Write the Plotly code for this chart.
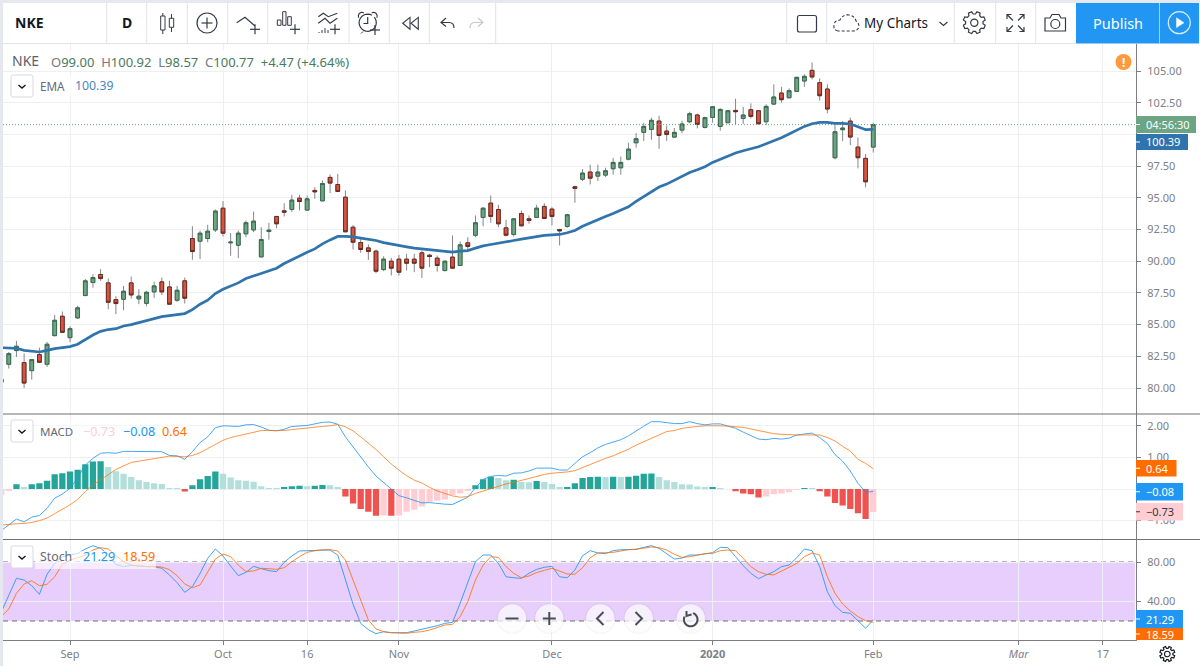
import math
import re
import plotly.graph_objects as go

# ---------- data ----------
bar_index = list(range(-9, 106))

opens = [80.70, 81.87, 82.95, 82.0, 81.37, 82.63, 81.87, 84.13, 85.66,
         83.97, 85.53, 87.29, 88.32, 88.95, 88.29, 86.97, 87.0, 88.29, 87.03, 86.68, 87.58, 88.37, 87.97, 86.92, 88.45,
         91.79, 91.58, 91.79, 92.47, 94.18, 91.45, 91.26, 92.16, 92.47, 90.34, 92.34, 93.53, 93.97, 94.08, 94.97, 94.03,
         95.58, 94.76, 96.61, 96.05, 95.05, 92.68, 91.47, 91.05, 90.79, 89.34, 90.0, 90.16, 90.16, 90.16, 90.66, 90.47,
         90.24, 89.26, 90.32, 89.66, 91.45, 92.05, 93.45, 94.58, 94.08, 92.63, 92.11, 93.76, 93.34, 93.45, 94.32, 94.11,
         92.5, 92.74, 95.87, 96.47, 97.03, 96.71, 96.79, 97.29, 97.37, 98.05, 99.34, 100.16, 100.39, 101.05, 100.26,
         99.79, 100.34, 101.0, 101.53, 100.55, 101.34, 100.63, 100.92, 101.89, 101.26, 101.95, 101.87, 101.0, 102.39,
         103.26, 102.89, 103.39, 104.21, 105.05, 104.08, 103.58, 98.16, 100.37, 101.05, 99.0, 98.11, 99.0]
highs = [81.0, 82.84, 83.71, 82.71, 82.24, 83.18, 83.63, 85.76, 86.03,
         84.87, 86.47, 88.6, 88.97, 89.37, 88.63, 87.24, 88.05, 88.79, 87.79, 87.66, 88.39, 88.71, 88.45, 88.05, 88.71,
         92.76, 92.42, 92.87, 94.08, 94.74, 92.21, 92.42, 93.21, 93.92, 92.68, 93.03, 93.53, 94.58, 95.24, 95.24, 95.18,
         95.84, 96.37, 96.84, 96.89, 95.58, 92.84, 91.76, 91.32, 90.92, 90.39, 90.26, 90.5, 90.58, 90.58, 90.84, 90.58,
         90.45, 90.05, 92.03, 91.55, 91.89, 93.61, 94.26, 95.18, 94.45, 93.26, 93.34, 94.0, 93.61, 94.45, 94.58, 94.26,
         92.55, 93.74, 95.95, 97.26, 97.61, 97.61, 97.37, 98.16, 98.26, 99.34, 100.11, 100.89, 101.32, 101.47, 100.7,
         100.5, 101.08, 101.79, 101.63, 101.39, 102.24, 102.05, 101.92, 102.82, 102.18, 102.45, 101.92, 102.37, 103.95,
         103.76, 103.63, 104.5, 104.74, 105.68, 104.42, 103.95, 100.74, 101.05, 101.32, 99.76, 98.45, 100.92]
lows = [80.3, 81.53, 82.45, 80.0, 80.66, 81.97, 81.66, 84.08, 84.34,
        83.61, 85.45, 87.24, 87.92, 88.45, 86.21, 85.82, 86.13, 87.05, 86.61, 86.45, 87.11, 87.32, 86.61, 86.79, 86.66,
        90.11, 90.16, 91.5, 92.3, 91.95, 90.42, 90.24, 91.89, 92.29, 90.32, 91.71, 92.6, 93.53, 93.87, 94.0, 94.0,
        94.92, 94.74, 95.37, 95.45, 92.29, 90.92, 90.66, 90.11, 89.05, 89.21, 88.87, 88.87, 89.26, 89.13, 88.68, 89.53,
        89.18, 89.21, 89.39, 89.61, 90.84, 91.89, 92.76, 93.03, 92.68, 91.97, 91.95, 92.74, 92.95, 93.45, 93.37, 92.82,
        91.24, 92.63, 94.61, 96.32, 96.05, 96.32, 96.63, 96.82, 96.82, 97.95, 98.95, 99.47, 99.58, 98.87, 99.5,
        99.71, 100.08, 100.87, 100.47, 100.47, 100.92, 100.29, 100.92, 100.79, 100.82, 101.26, 100.79, 100.74, 102.32,
        102.5, 102.84, 103.37, 103.76, 104.34, 102.66, 101.66, 98.03, 99.47, 99.16, 97.32, 95.82, 98.57]
closes = [80.45, 82.71, 83.29, 80.39, 82.24, 82.03, 83.45, 85.34, 84.39,
          84.68, 86.32, 88.45, 88.71, 88.63, 86.76, 86.66, 87.63, 87.34, 87.24, 87.55, 88.05, 87.58, 86.61, 87.71, 87.08,
          90.76, 92.21, 92.37, 93.95, 92.21, 91.5, 92.21, 93.03, 93.16, 91.71, 92.45, 92.95, 93.87, 94.82, 94.71, 94.92,
          95.47, 96.13, 96.16, 95.5, 92.32, 91.5, 90.92, 90.76, 89.21, 90.16, 89.45, 89.13, 89.84, 89.84, 89.45, 90.37,
          89.66, 90.0, 89.45, 91.29, 91.16, 93.03, 94.18, 93.53, 92.95, 92.05, 93.34, 92.79, 93.21, 94.18, 93.37, 93.53,
          92.39, 93.66, 95.74, 96.95, 96.55, 97.03, 97.13, 97.79, 97.79, 98.84, 99.66, 100.63, 101.11, 99.92, 100.0,
          100.16, 100.82, 101.63, 100.79, 101.32, 102.18, 101.97, 101.87, 101.79, 101.53, 101.42, 100.84, 102.21, 102.95,
          102.74, 103.45, 104.5, 104.58, 104.53, 103.05, 102.0, 100.21, 100.5, 99.79, 98.16, 96.26, 100.77]
ema = [83.18, 83.18, 83.13, 82.97, 82.89, 82.84, 82.97, 83.11, 83.18,
       83.26, 83.45, 83.84, 84.18, 84.47, 84.61, 84.68, 84.89, 85.0, 85.16, 85.32, 85.45, 85.63, 85.71, 85.79, 85.87,
       86.18, 86.61, 86.92, 87.45, 87.79, 88.03, 88.29, 88.63, 88.84, 89.08, 89.24, 89.45, 89.82, 90.13, 90.42, 90.7,
       90.97, 91.37, 91.68, 91.95, 91.95, 91.92, 91.82, 91.74, 91.63, 91.47, 91.34, 91.21, 91.13, 91.03, 90.97, 90.92,
       90.84, 90.76, 90.71, 90.79, 90.84, 91.03, 91.21, 91.32, 91.42, 91.47, 91.63, 91.74, 91.84, 91.97, 92.03, 92.08,
       92.11, 92.24, 92.42, 92.76, 93.03, 93.29, 93.53, 93.76, 94.05, 94.29, 94.71, 95.11, 95.5, 95.85, 96.08,
       96.37, 96.66, 97.0, 97.21, 97.45, 97.79, 98.05, 98.29, 98.53, 98.71, 98.87, 99.03, 99.26, 99.47,
       99.74, 100.03, 100.34, 100.63, 100.84, 100.95, 100.95, 100.87, 100.87, 100.82, 100.61, 100.37, 100.39]
macd_hist = [-0.2, -0.05, 0.15, 0.05, 0.15, 0.18, 0.26, 0.47, 0.5,
             0.55, 0.61, 0.78, 0.87, 0.88, 0.7, 0.56, 0.48, 0.38, 0.28, 0.22, 0.18, 0.16, 0.03, 0.01, -0.08,
             0.12, 0.31, 0.41, 0.55, 0.48, 0.36, 0.28, 0.26, 0.23, 0.09, 0.03, 0.02, 0.04, 0.09, 0.10, 0.09,
             0.10, 0.13, 0.12, 0.06, -0.24, -0.46, -0.63, -0.72, -0.85, -0.84, -0.85, -0.84, -0.72, -0.66, -0.55, -0.4,
             -0.37, -0.33, -0.2, -0.14, -0.04, 0.12, 0.31, 0.39, 0.35, 0.28, 0.29, 0.22, 0.21, 0.25, 0.22, 0.16,
             0.05, 0.06, 0.18, 0.35, 0.38, 0.39, 0.38, 0.39, 0.38, 0.39, 0.42, 0.48, 0.49, 0.38, 0.28,
             0.22, 0.15, 0.14, 0.08, 0.05, 0.06, 0.02, 0.0, -0.07, -0.14, -0.17, -0.27, -0.24, -0.17,
             -0.14, -0.1, -0.01, 0.03, 0.03, -0.07, -0.24, -0.44, -0.52, -0.63, -0.77, -0.95, -0.73]
macd_line = [-1.32, -1.13, -0.95, -1.04, -0.89, -0.84, -0.61, -0.29, -0.16,
             0.02, 0.34, 0.76, 0.97, 1.13, 1.15, 1.13, 1.19, 1.19, 1.19, 1.19, 1.19, 1.18, 1.06, 1.05, 0.94,
             1.18, 1.47, 1.65, 1.94, 2.0, 1.99, 1.98, 2.03, 2.04, 1.96, 1.86, 1.84, 1.89, 1.98, 2.0, 2.01,
             2.06, 2.11, 2.12, 2.05, 1.65, 1.33, 1.02, 0.7, 0.41, 0.21, 0.0, -0.21, -0.28, -0.35, -0.44, -0.43,
             -0.46, -0.48, -0.49, -0.38, -0.26, 0.04, 0.3, 0.4, 0.43, 0.41, 0.5, 0.51, 0.57, 0.66, 0.66, 0.66,
             0.6, 0.6, 0.81, 1.02, 1.15, 1.3, 1.41, 1.49, 1.56, 1.68, 1.84, 1.99, 2.13, 2.13, 2.1,
             2.07, 2.07, 2.13, 2.07, 2.03, 2.06, 2.06, 1.99, 1.92, 1.8, 1.69, 1.58, 1.56, 1.6,
             1.58, 1.61, 1.71, 1.74, 1.77, 1.63, 1.44, 1.09, 0.88, 0.57, 0.18, -0.1, -0.08]
macd_signal = [-1.14, -1.11, -1.10, -1.09, -1.06, -1.0, -0.92, -0.78, -0.64,
               -0.5, -0.33, -0.08, 0.13, 0.28, 0.45, 0.62, 0.72, 0.84, 0.88, 0.92, 0.98, 1.02, 1.04, 1.03, 1.02,
               1.06, 1.15, 1.28, 1.42, 1.54, 1.63, 1.69, 1.74, 1.8, 1.85, 1.85, 1.84, 1.85, 1.88, 1.91, 1.93,
               1.95, 1.98, 2.0, 2.04, 1.97, 1.84, 1.65, 1.46, 1.25, 1.02, 0.79, 0.6, 0.42, 0.28, 0.19, 0.05,
               -0.06, -0.14, -0.22, -0.26, -0.24, -0.14, -0.06, 0.02, 0.1, 0.16, 0.21, 0.27, 0.35, 0.41, 0.46, 0.5,
               0.51, 0.54, 0.58, 0.68, 0.76, 0.87, 0.97, 1.05, 1.15, 1.26, 1.39, 1.49, 1.61, 1.71, 1.82,
               1.85, 1.92, 1.96, 1.98, 2.0, 2.01, 2.0, 1.99, 1.97, 1.95, 1.9, 1.85, 1.8, 1.75,
               1.73, 1.71, 1.71, 1.71, 1.71, 1.71, 1.63, 1.52, 1.35, 1.2, 0.94, 0.81, 0.64]
stoch_k = [28.8, 46.4, 63.4, 61.7, 55.9, 47.1, 67.5, 78.6, 85.4,
           87.1, 88.8, 93.2, 96.6, 93.9, 87.8, 77.6, 75.3, 76.6, 75.9, 75.3, 75.3, 73.6, 66.8, 59.0, 49.2,
           54.9, 68.5, 83.7, 93.2, 86.1, 75.9, 66.1, 69.5, 75.6, 73.2, 71.2, 70.2, 79.7, 86.1, 91.2, 91.5,
           91.9, 92.5, 92.2, 87.1, 61.7, 37.0, 17.6, 11.2, 7.1, 9.1, 8.1, 8.1, 8.1, 9.8, 11.5, 12.9,
           15.2, 17.6, 18.6, 38.0, 60.0, 80.3, 87.1, 87.1, 78.6, 65.0, 64.0, 63.4, 68.5, 72.5, 74.6, 75.6,
           65.0, 64.0, 71.9, 86.4, 91.5, 89.2, 88.5, 91.5, 92.5, 92.5, 92.9, 94.9, 96.6, 93.9, 88.8,
           83.0, 84.1, 87.1, 87.1, 88.5, 89.5, 94.9, 94.6, 85.4, 76.3, 68.5, 63.0, 66.8, 70.2,
           75.3, 76.9, 84.4, 93.2, 91.5, 75.3, 49.8, 35.6, 28.8, 27.8, 20.3, 12.5, 21.29]
stoch_d = [24.4, 32.2, 48.1, 57.6, 61.0, 55.9, 57.3, 65.0, 77.6,
           82.0, 84.4, 87.1, 92.2, 94.6, 93.2, 87.1, 80.3, 76.9, 75.9, 75.3, 75.3, 74.9, 72.2, 66.1, 57.6,
           53.9, 56.6, 70.2, 83.0, 88.1, 85.4, 76.9, 70.2, 70.9, 73.6, 73.2, 72.5, 74.2, 80.3, 85.4, 89.8,
           91.5, 92.5, 92.5, 91.2, 82.0, 61.7, 39.7, 21.0, 11.9, 9.1, 8.1, 7.5, 7.5, 8.5, 9.1, 10.8,
           13.2, 15.9, 16.6, 24.4, 39.7, 61.7, 76.9, 85.4, 84.7, 75.3, 68.5, 64.0, 65.8, 69.2, 71.5, 73.6,
           70.8, 67.8, 67.5, 74.2, 84.4, 89.2, 89.5, 89.8, 91.2, 92.5, 92.9, 93.9, 95.3, 94.6, 92.2,
           87.8, 84.7, 85.4, 86.8, 88.5, 88.8, 91.5, 92.2, 91.5, 83.7, 75.3, 70.2, 67.5, 66.8,
           70.9, 74.6, 78.6, 85.4, 89.2, 87.1, 65.0, 48.1, 37.3, 30.2, 24.4, 20.3, 18.59]

price_ticks = [80, 82.5, 85, 87.5, 90, 92.5, 95, 97.5, 100, 102.5, 105]
price_labels = ["80.00", "82.50", "85.00", "87.50", "90.00", "92.50", "95.00", "97.50", "", "102.50", "105.00"]
macd_ticks = [-1, 0, 1, 2]
macd_labels = ["−1.00", "", "1.00", "2.00"]
stoch_ticks = [40, 80]
stoch_labels = ["40.00", "80.00"]
stoch_upper, stoch_lower = 80, 20
date_ticks = [0, 20, 31, 43, 63, 84, 105, 124, 135]
date_labels = ["Sep", "Oct", "16", "Nov", "Dec", "<b>2020</b>", "Feb", "<i>Mar</i>", "17"]

for s in (opens, highs, lows, closes, ema, macd_hist, macd_line, macd_signal, stoch_k, stoch_d):
    assert len(s) == len(bar_index), len(s)

# ---------- style ----------
W, H = 1200, 666
FONT = "Noto Sans"
GREEN, RED = "#6ba583", "#d75442"
GREEN_EDGE, RED_EDGE = "#3a6a4e", "#6b2a20"
WICK = "#85868a"
EMA_C = "#2f74ad"
BLUE, ORANGE = "#2196f3", "#ff6d00"
GRID = "#eeeff3"
AXIS = "#7b7d82"
LABEL = "#7d8087"
ICON = "#363a45"
X_RANGE = [(3 - 70) / 7.65, (1136 - 70) / 7.65]


def px(x):
    return x / W


def py(y):
    return 1 - y / H


def conv(path):
    return re.sub(r"(-?\d+\.?\d*)[ ,]+(-?\d+\.?\d*)",
                  lambda m: f"{px(float(m.group(1))):.5f},{py(float(m.group(2))):.5f}", path)


shapes, notes = [], []


def line(x0, y0, x1, y1, color=ICON, width=1.0, dash=None, layer="above"):
    shapes.append(dict(type="line", xref="paper", yref="paper", x0=px(x0), x1=px(x1), y0=py(y0), y1=py(y1),
                       line=dict(color=color, width=width, dash=dash or "solid"), layer=layer))


def rect(x0, y0, x1, y1, fill=None, color=None, width=1.0, layer="above"):
    shapes.append(dict(type="rect", xref="paper", yref="paper", x0=px(x0), x1=px(x1), y0=py(y0), y1=py(y1),
                       fillcolor=fill or "rgba(0,0,0,0)",
                       line=dict(color=color or "rgba(0,0,0,0)", width=width if color else 0), layer=layer))


def circle(cx, cy, r, fill=None, color=ICON, width=1.2):
    shapes.append(dict(type="circle", xref="paper", yref="paper", x0=px(cx - r), x1=px(cx + r),
                       y0=py(cy + r), y1=py(cy - r), fillcolor=fill or "rgba(0,0,0,0)",
                       line=dict(color=color or "rgba(0,0,0,0)", width=width if color else 0), layer="above"))


def path(d, color=ICON, width=1.2, fill=None, dash=None):
    shapes.append(dict(type="path", xref="paper", yref="paper", path=conv(d), fillcolor=fill or "rgba(0,0,0,0)",
                       line=dict(color=color, width=width, dash=dash or "solid"), layer="above"))


def text(x, y, s, size=12, color=LABEL, anchor="left"):
    notes.append(dict(xref="paper", yref="paper", x=px(x), y=py(y), text=s, showarrow=False, xanchor=anchor,
                      yanchor="middle", font=dict(family=FONT, size=size, color=color), borderpad=0, borderwidth=0))


def arc(cx, cy, r, a0, a1, n=24):
    pts = []
    for k in range(n + 1):
        a = math.radians(a0 + (a1 - a0) * k / n)
        pts.append(f"{'M' if k == 0 else 'L'} {cx + r * math.cos(a):.2f} {cy + r * math.sin(a):.2f}")
    return " ".join(pts)


def gear(cx, cy, r_in, r_out, teeth=8):
    pts = []
    for k in range(teeth):
        base = 360 * k / teeth
        for off, r in ((-15, r_in), (-9, r_out), (9, r_out), (15, r_in)):
            a = math.radians(base + off + 22.5)
            pts.append(f"{cx + r * math.cos(a):.2f} {cy + r * math.sin(a):.2f}")
    return "M " + " L ".join(pts) + " Z"


def plus(cx, cy, r, color=ICON, width=1.2):
    line(cx - r, cy, cx + r, cy, color, width)
    line(cx, cy - r, cx, cy + r, color, width)


def chevron_box(y0):
    shapes.append(dict(type="path", xref="paper", yref="paper", layer="above",
                       path=conv(f"M 13 {y0} L 31 {y0} Q 33 {y0} 33 {y0 + 2} L 33 {y0 + 20} Q 33 {y0 + 22} 31 {y0 + 22} "
                                 f"L 13 {y0 + 22} Q 11 {y0 + 22} 11 {y0 + 20} L 11 {y0 + 2} Q 11 {y0} 13 {y0} Z"),
                       fillcolor="#ffffff", line=dict(color="#d8dae6", width=1)))
    path(f"M 18.5 {y0 + 10} L 22 {y0 + 13} L 25.5 {y0 + 10}", "#131722", 1.4)


def tag(y0, y1, x1, s, fill, fg="#ffffff"):
    rect(1136, y0, x1, y1, fill=fill)
    line(1136, (y0 + y1) / 2, 1140, (y0 + y1) / 2, fg, 1)
    text(1145.5, (y0 + y1) / 2, s, 11, fg)


# ---------- traces ----------
fig = go.Figure()
body_hi = [max(o, c) for o, c in zip(opens, closes)]
body_lo = [min(o, c) for o, c in zip(opens, closes)]

fig.add_trace(go.Candlestick(x=bar_index, open=opens, high=highs, low=lows, close=closes, xaxis="x", yaxis="y",
                             whiskerwidth=0, showlegend=False,
                             increasing=dict(line=dict(color=WICK, width=1), fillcolor=GREEN),
                             decreasing=dict(line=dict(color=WICK, width=1), fillcolor=RED)))
fig.add_trace(go.Candlestick(x=bar_index, open=opens, high=body_hi, low=body_lo, close=closes, xaxis="x", yaxis="y",
                             whiskerwidth=0, showlegend=False,
                             increasing=dict(line=dict(color=GREEN_EDGE, width=1), fillcolor=GREEN),
                             decreasing=dict(line=dict(color=RED_EDGE, width=1), fillcolor=RED)))
fig.add_trace(go.Scatter(x=X_RANGE, y=[closes[-1], closes[-1]], mode="lines", xaxis="x", yaxis="y", showlegend=False,
                         line=dict(color=GREEN, width=1, dash="1px,2px")))
fig.add_trace(go.Scatter(x=bar_index, y=ema, mode="lines", xaxis="x", yaxis="y", showlegend=False,
                         line=dict(color=EMA_C, width=2.7)))


def hist_color(k):
    v = macd_hist[k]
    rising = k > 0 and v > macd_hist[k - 1]
    if v >= 0:
        return "#26a69a" if rising else "#b2dfdb"
    return "#ffcdd2" if (rising or k == 0) else "#ef5350"


fig.add_trace(go.Bar(x=bar_index, y=macd_hist, xaxis="x2", yaxis="y2", showlegend=False, width=0.82,
                     marker=dict(color=[hist_color(k) for k in range(len(macd_hist))], line=dict(width=0))))
fig.add_trace(go.Scatter(x=bar_index, y=macd_line, mode="lines", xaxis="x2", yaxis="y2", showlegend=False, opacity=0.82,
                         line=dict(color=BLUE, width=1)))
fig.add_trace(go.Scatter(x=bar_index, y=macd_signal, mode="lines", xaxis="x2", yaxis="y2", showlegend=False, opacity=0.72,
                         line=dict(color=ORANGE, width=1)))
fig.add_trace(go.Scatter(x=bar_index, y=stoch_k, mode="lines", xaxis="x3", yaxis="y3", showlegend=False, opacity=0.85,
                         line=dict(color=BLUE, width=1)))
fig.add_trace(go.Scatter(x=bar_index, y=stoch_d, mode="lines", xaxis="x3", yaxis="y3", showlegend=False, opacity=0.8,
                         line=dict(color=ORANGE, width=1)))

# stochastic band
shapes.append(dict(type="rect", xref="x3", yref="y3", x0=X_RANGE[0], x1=X_RANGE[1] - 0.15, y0=stoch_lower, y1=stoch_upper,
                   fillcolor="rgba(150,30,240,0.22)", line=dict(width=0), layer="below"))
for lv in (stoch_upper, stoch_lower):
    shapes.append(dict(type="line", xref="x3", yref="y3", x0=X_RANGE[0], x1=X_RANGE[1] - 0.15, y0=lv, y1=lv,
                       line=dict(color="#6e6e78", width=1.1, dash="5px,4px"), layer="below"))

# ---------- chrome ----------
rect(0, 0, 3, 666, fill="#e6e8f0")
rect(0, 0, 1200, 3, fill="#e6e8f0")
line(0, 43.5, 1076, 43.5, "#e0e3eb", 1)
for xs in (106.7, 146.7, 187.3, 227.7, 267.7, 308.3, 349, 389.3, 429.3, 495.7,
           786.7, 826.7, 954.3, 995.7, 1035.7):
    line(xs, 3, xs, 43, "#e0e3eb", 1)

# translucent legend backings
rect(3, 50, 350, 70, fill="rgba(255,255,255,0.75)")
rect(3, 75, 118, 96, fill="rgba(255,255,255,0.75)")
rect(35, 420, 190, 438, fill="rgba(255,255,255,0.5)")
rect(35, 551, 156, 569, fill="rgba(255,255,255,0.62)")

# panel separators and axis lines
line(3, 414, 1200, 414, "#6f7176", 1.2)
line(3, 539.5, 1200, 539.5, "#6f7176", 1.2)

# toolbar left
text(15, 23, "<b>NKE</b>", 14, "#131722")
text(126.5, 23, "<b>D</b>", 14, "#131722", "center")
line(162.8, 13, 162.8, 34)
rect(160.7, 16, 165, 30, fill="#ffffff", color=ICON)
line(171.5, 14, 171.5, 32)
rect(169.3, 18.3, 173.7, 27.3, fill="#ffffff", color=ICON)
circle(207, 23, 10)
plus(207, 23, 5.5)
path("M 236.7 22.7 L 245 17.3 L 255 26")
plus(255, 29.3, 5)
rect(277.3, 20, 281, 25.3, color=ICON)
rect(282.7, 11.7, 286, 25.3, color=ICON)
rect(287.7, 16.7, 291.3, 25.3, color=ICON)
plus(295, 29.3, 5)
path("M 318.3 16.7 L 323.3 13.3 L 328.3 16.7 L 337.3 13.3")
path("M 318.3 23.3 L 325 18.3 L 330 23.3 L 337.3 18.3")
for bx, bt in ((319, 32), (322, 30), (325, 28), (328, 30)):
    line(bx, 33, bx, bt, ICON, 1)
plus(335, 29.3, 5)
path(arc(367.7, 22.7, 8.6, -40, 300))
path("M 367.7 17 L 367.7 23.5 L 363.5 23.5")
path(arc(362, 16, 3.6, 150, 300))
path(arc(373.5, 16, 3.6, 240, 390))
line(363, 31.5, 361, 33.5)
plus(375, 30, 5)
path("M 410 17.3 L 402.7 23.3 L 410 29.3 Z M 418.3 17.3 L 411 23.3 L 418.3 29.3 Z", "#363a45", 1.1)
path("M 446 18 L 441 22.5 L 446 26.5 M 441 22.5 L 449 22.5 Q 454 22.5 454 28")
path("M 478 18 L 483 22.5 L 478 26.5 M 483 22.5 L 475 22.5 Q 470 22.5 470 28", "#c4c7cf")

# toolbar right
path("M 799.5 15.5 L 814.5 15.5 Q 816.5 15.5 816.5 17.5 L 816.5 30 Q 816.5 32 814.5 32 L 799.5 32 Q 797.5 32 797.5 30 "
     "L 797.5 17.5 Q 797.5 15.5 799.5 15.5 Z")
path("M 838 31 Q 833 30 834 25 Q 834 21 840 20 Q 843 14 849 15 Q 855 16 856 21 Q 860 24 858.5 28 Q 857 31 853 31 Z",
     dash="3px,2px", width=1.1)
text(864, 23, "My Charts", 13.5, "#131722")
path("M 939.5 22 L 943.5 25.5 L 947.5 22", "#363a45", 1.2)
path(gear(974.3, 22.7, 8.8, 11.2), width=1.2)
circle(974.3, 22.7, 3.6)
for d in ("M 1007 19 L 1007 14.5 L 1011.5 14.5 M 1007 14.5 L 1013 20.5",
          "M 1019.5 14.5 L 1024 14.5 L 1024 19 M 1024 14.5 L 1018 20.5",
          "M 1007 27 L 1007 31.5 L 1011.5 31.5 M 1007 31.5 L 1013 25.5",
          "M 1019.5 31.5 L 1024 31.5 L 1024 27 M 1024 31.5 L 1018 25.5"):
    path(d)
path("M 1045 18 L 1050 18 L 1052 14.5 L 1059 14.5 L 1061 18 L 1065.5 18 L 1065.5 31 L 1045 31 Z")
circle(1055.3, 24, 4.5)
rect(1076, 3, 1199, 43.5, fill=BLUE)
line(1159.5, 3, 1159.5, 43.5, "#a5d4f9", 1)
text(1117.5, 23, "Publish", 14.5, "#ffffff", "center")
circle(1179.3, 22.7, 11, color="#d8edfd", width=1.2)
path("M 1176.5 17.8 L 1184 22.7 L 1176.5 27.6 Z", "#ffffff", 0.5, fill="#ffffff")

# legends
text(12, 61, "NKE", 14, "#5d606b")
vc = "#4a7a5e"
nc = "#767985"
text(51, 62, f'<span style="color:{nc}">O</span><span style="color:{vc}">99.00</span>'
             f'  <span style="color:{nc}">H</span><span style="color:{vc}">100.92</span>'
             f'  <span style="color:{nc}">L</span><span style="color:{vc}">98.57</span>'
             f'  <span style="color:{nc}">C</span><span style="color:{vc}">100.77</span>'
             f'  <span style="color:{vc}">+4.47 (+4.64%)</span>', 13, vc)
chevron_box(75)
text(40, 85.5, "EMA", 11.7, "#666a75")
text(75, 85.5, "100.39", 12.3, "#4a86c0")
chevron_box(420)
text(40, 431, "MACD", 11.5, "#666a75")
text(83, 431, "−0.73", 12.6, "#ffcdd2")
text(123, 431, "−0.08", 12.6, BLUE)
text(162, 431, "0.64", 12.6, ORANGE)
chevron_box(546)
text(40, 556.5, "Stoch", 12.3, "#666a75")
text(83, 556.5, "21.29", 12.6, BLUE)
text(123, 556.5, "18.59", 12.6, ORANGE)

# warning badge
circle(1123.5, 62, 8, fill="#ff9a3c", color=None)
text(1123.5, 62, "<b>!</b>", 12, "#ffffff", "center")

# price tags
tag(116, 133, 1196, "04:56:30", GREEN)
tag(134, 150, 1188, "100.39", EMA_C)
tag(460, 476.5, 1176.5, "0.64", ORANGE)
tag(483, 500.5, 1183, "−0.08", BLUE)
tag(503, 520.5, 1183, "−0.73", "#ffcdd2", "#333640")
tag(610, 628, 1183, "21.29", BLUE)
tag(628, 640, 1183, "18.59", ORANGE)

# floating nav buttons
for cx in (512, 549.3, 600.3, 638.7, 690.7):
    circle(cx, 618.5, 15.5, fill="rgba(0,0,0,0.035)", color=None)
    circle(cx, 618.5, 14.2, fill="rgba(255,255,255,0.72)", color=None)
nav = "#4a4d57"
line(505.5, 618.5, 518.5, 618.5, nav, 2)
plus(549.3, 618.5, 6.5, nav, 2)
path("M 603.5 612 L 597 618.5 L 603.5 625", nav, 2)
path("M 635.5 612 L 642 618.5 L 635.5 625", nav, 2)
path(arc(690.7, 619.5, 6.8, -70, 205), nav, 2)
path("M 686.5 611 L 686.5 616 L 691.5 614.5", nav, 2)

# gear bottom right
path(gear(1167.3, 654, 5.6, 7.6), "#131722", 1.2)
circle(1167.3, 654, 2.8, color="#131722", width=1.1)

# ---------- layout ----------
x_common = dict(range=X_RANGE, tickvals=date_ticks, showgrid=True, gridcolor=GRID, gridwidth=1.3, zeroline=False,
                domain=[px(3), px(1136)], fixedrange=True)
y_common = dict(side="right", showgrid=True, gridcolor=GRID, gridwidth=1.3, zeroline=False, showline=True,
                linecolor=AXIS, linewidth=1.2, ticks="outside", ticklen=4, tickcolor=AXIS, tickwidth=1,
                tickfont=dict(family=FONT, size=11, color=LABEL), ticklabelstandoff=4, fixedrange=True)

fig.update_layout(
    width=W, height=H, margin=dict(l=0, r=0, t=0, b=0), paper_bgcolor="#ffffff", plot_bgcolor="#ffffff",
    showlegend=False, barmode="overlay", hovermode=False, font=dict(family=FONT),
    shapes=shapes, annotations=notes,
    xaxis=dict(**x_common, anchor="y", showticklabels=False, rangeslider=dict(visible=False)),
    xaxis2=dict(**x_common, anchor="y2", showticklabels=False),
    xaxis3=dict(**x_common, anchor="y3", ticktext=date_labels, showticklabels=True, ticks="outside", ticklen=4,
                tickcolor=AXIS, showline=True, linecolor=AXIS, linewidth=1.2,
                tickfont=dict(family=FONT, size=11, color=LABEL)),
    yaxis=dict(**y_common, anchor="x", domain=[py(414), py(44)], range=[105 - (414 - 71) / 12.68, 105 + (71 - 44) / 12.68],
               tickvals=price_ticks, ticktext=price_labels),
    yaxis2=dict(**y_common, anchor="x2", domain=[py(539.5), py(414)], range=[-(539.5 - 489) / 31.6, (489 - 414) / 31.6],
                tickvals=macd_ticks, ticktext=macd_labels),
    yaxis3=dict(**y_common, anchor="x3", domain=[py(640), py(539.5)], range=[20 - 19 / 0.983, 80 + 22.5 / 0.983],
                tickvals=stoch_ticks, ticktext=stoch_labels),
)

fig.write_html("out.html", config=dict(displayModeBar=False),
               post_script="document.body.style.margin='0';document.documentElement.style.overflow='hidden';")
